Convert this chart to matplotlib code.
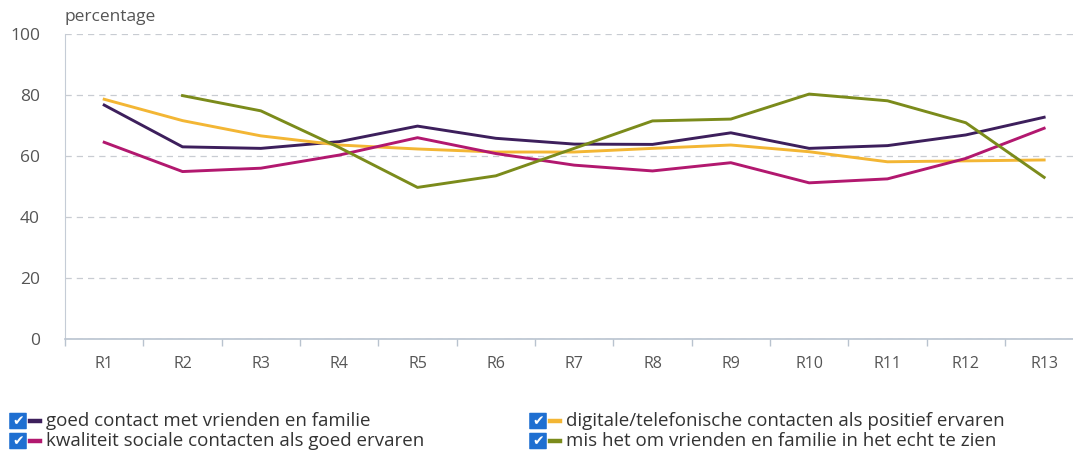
import numpy as np
import matplotlib.pyplot as plt
from matplotlib.patches import FancyBboxPatch

plt.rcParams['font.family'] = ['Open Sans', 'DejaVu Sans']

# data
rounds = ["R1", "R2", "R3", "R4", "R5", "R6", "R7", "R8", "R9", "R10", "R11", "R12", "R13"]
goed_contact = [76.7, 63.0, 62.5, 64.7, 69.8, 65.8, 63.9, 63.8, 67.6, 62.5, 63.4, 66.9, 72.7]
digitaal_positief = [78.6, 71.6, 66.6, 63.6, 62.3, 61.3, 61.3, 62.5, 63.6, 61.4, 58.1, 58.4, 58.7]
kwaliteit_goed = [64.5, 54.9, 56.0, 60.3, 66.0, 60.8, 57.0, 55.1, 57.8, 51.2, 52.5, 59.2, 69.1]
mis_het_echt = [np.nan, 79.8, 74.8, 62.8, 49.7, 53.5, 62.5, 71.5, 72.1, 80.3, 78.1, 70.9, 53.0]

labels = [
    "goed contact met vrienden en familie",
    "digitale/telefonische contacten als positief ervaren",
    "kwaliteit sociale contacten als goed ervaren",
    "mis het om vrienden en familie in het echt te zien",
]
colors = ["#3d1f5c", "#f3b634", "#b2186f", "#7b8b1b"]
series = [goed_contact, digitaal_positief, kwaliteit_goed, mis_het_echt]

fig = plt.figure(figsize=(10.73, 4.58), dpi=100)
ax = fig.add_axes([0.0606, 0.2598, 0.949, 0.666])

x = np.arange(len(rounds))
for vals, c in zip(series, colors):
    ax.plot(x, vals, color=c, linewidth=2.1, solid_joinstyle="round")

ax.set_xlim(-0.5, len(rounds) - 0.5)
ax.set_ylim(0, 100)
ax.set_yticks([0, 20, 40, 60, 80, 100])
ax.yaxis.grid(True, linestyle=(0, (5, 4)), color="#c8ccd2", linewidth=0.9)
ax.set_axisbelow(True)

ax.set_xticks(x)
ax.set_xticklabels(rounds)
ax.set_xticks(np.arange(-0.5, len(rounds)), minor=True)
ax.tick_params(axis="x", which="major", length=0, pad=12, labelsize=11.5, labelcolor="#555555")
ax.tick_params(axis="x", which="minor", length=5, color="#b9c3cf", width=1)
ax.tick_params(axis="y", length=0, pad=18, labelsize=12.5, labelcolor="#555555")

for side in ["top", "right"]:
    ax.spines[side].set_visible(False)
ax.spines["left"].set_color("#c5ccd6")
ax.spines["bottom"].set_color("#b9c3cf")
ax.spines["bottom"].set_linewidth(1.2)

fig.text(65 / 1073, 1 - 17 / 458, "percentage", fontsize=12.5, color="#555555",
         ha="left", va="center")

# legend with checkbox-style markers
positions = [(18, 421), (538, 421), (18, 441), (538, 441)]
for (px, py), lab, c in zip(positions, labels, colors):
    bx = px / 1073
    by = 1 - py / 458
    box = FancyBboxPatch((bx - 0.0072, by - 0.017), 0.0144, 0.034,
                         boxstyle="round,pad=0.001", transform=fig.transFigure,
                         facecolor="#1f6fd1", edgecolor="none")
    fig.patches.append(box)
    fig.text(bx, by, "\u2714", color="white", fontsize=10, ha="center", va="center",
             family=["DejaVu Sans"])
    fig.lines.append(plt.Line2D([(px + 12) / 1073, (px + 22) / 1073], [by, by],
                                transform=fig.transFigure, color=c, linewidth=3.2))
    fig.text((px + 28) / 1073, by, lab, fontsize=13.5, color="#333333",
             ha="left", va="center")

fig.savefig("out.png", dpi=100)
